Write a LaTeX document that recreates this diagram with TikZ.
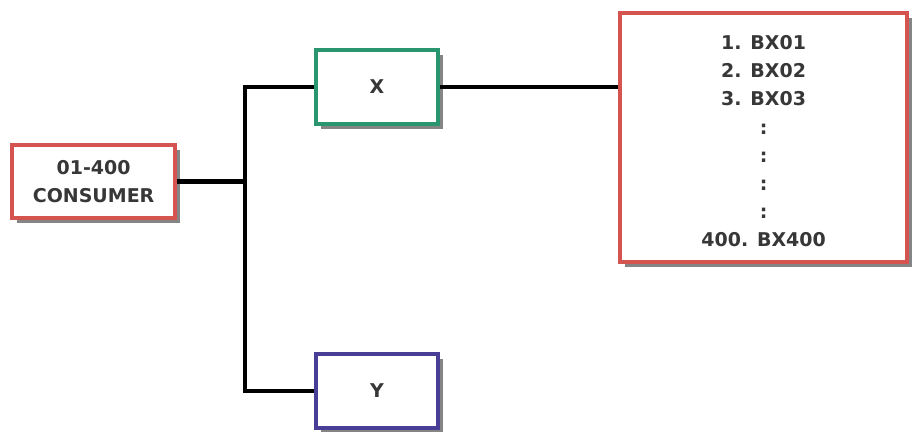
\documentclass[tikz,border=0pt]{standalone}
\usepackage{fontspec}
\setmainfont{DejaVu Sans}
\usetikzlibrary{shadows}
\definecolor{boxred}{RGB}{214,84,80}
\definecolor{boxgreen}{RGB}{42,150,112}
\definecolor{boxblue}{RGB}{72,62,150}
\definecolor{txtgray}{RGB}{55,55,55}
\tikzset{
  unitbox/.style={draw=#1, line width=2.6pt, fill=white, text=txtgray,
    font=\bfseries\fontsize{13.5}{19.5}\selectfont, align=center, inner sep=0pt,
    drop shadow={shadow xshift=0.13cm, shadow yshift=-0.13cm, fill=gray!80!black, opacity=0.8}},
  wire/.style={line width=3pt, black}
}
\begin{document}
\begin{tikzpicture}
\useasboundingbox (0,0) rectangle (22.8,-10.8);
% boxes
\node[unitbox=boxred, minimum width=4.075cm, minimum height=1.825cm] (cons) at (2.34,-4.54) {01-400\\CONSUMER};
\node[unitbox=boxgreen, minimum width=3.05cm, minimum height=1.85cm] (x) at (9.425,-2.175) {X};
\node[unitbox=boxblue, minimum width=3.05cm, minimum height=1.85cm] (y) at (9.425,-9.775) {Y};
\node[unitbox=boxred, minimum width=7.175cm, minimum height=6.225cm] (list) at (19.09,-3.44) {};
\node[text=txtgray, font=\bfseries\fontsize{13.5}{20}\selectfont, align=center] (items) at (19.09,-3.53)
  {1. BX01\\2. BX02\\3. BX03\\:\\:\\:\\:\\400. BX400};
% wiring
\coordinate (jn) at (6.125,0);
\draw[wire] (cons.east) -- (cons.east -| jn);
\draw[wire] (x.west) -- (jn |- x.west) -- (jn |- y.west) -- (y.west);
\draw[wire] (x.east) -- (list.west |- x.east);
\end{tikzpicture}
\end{document}
